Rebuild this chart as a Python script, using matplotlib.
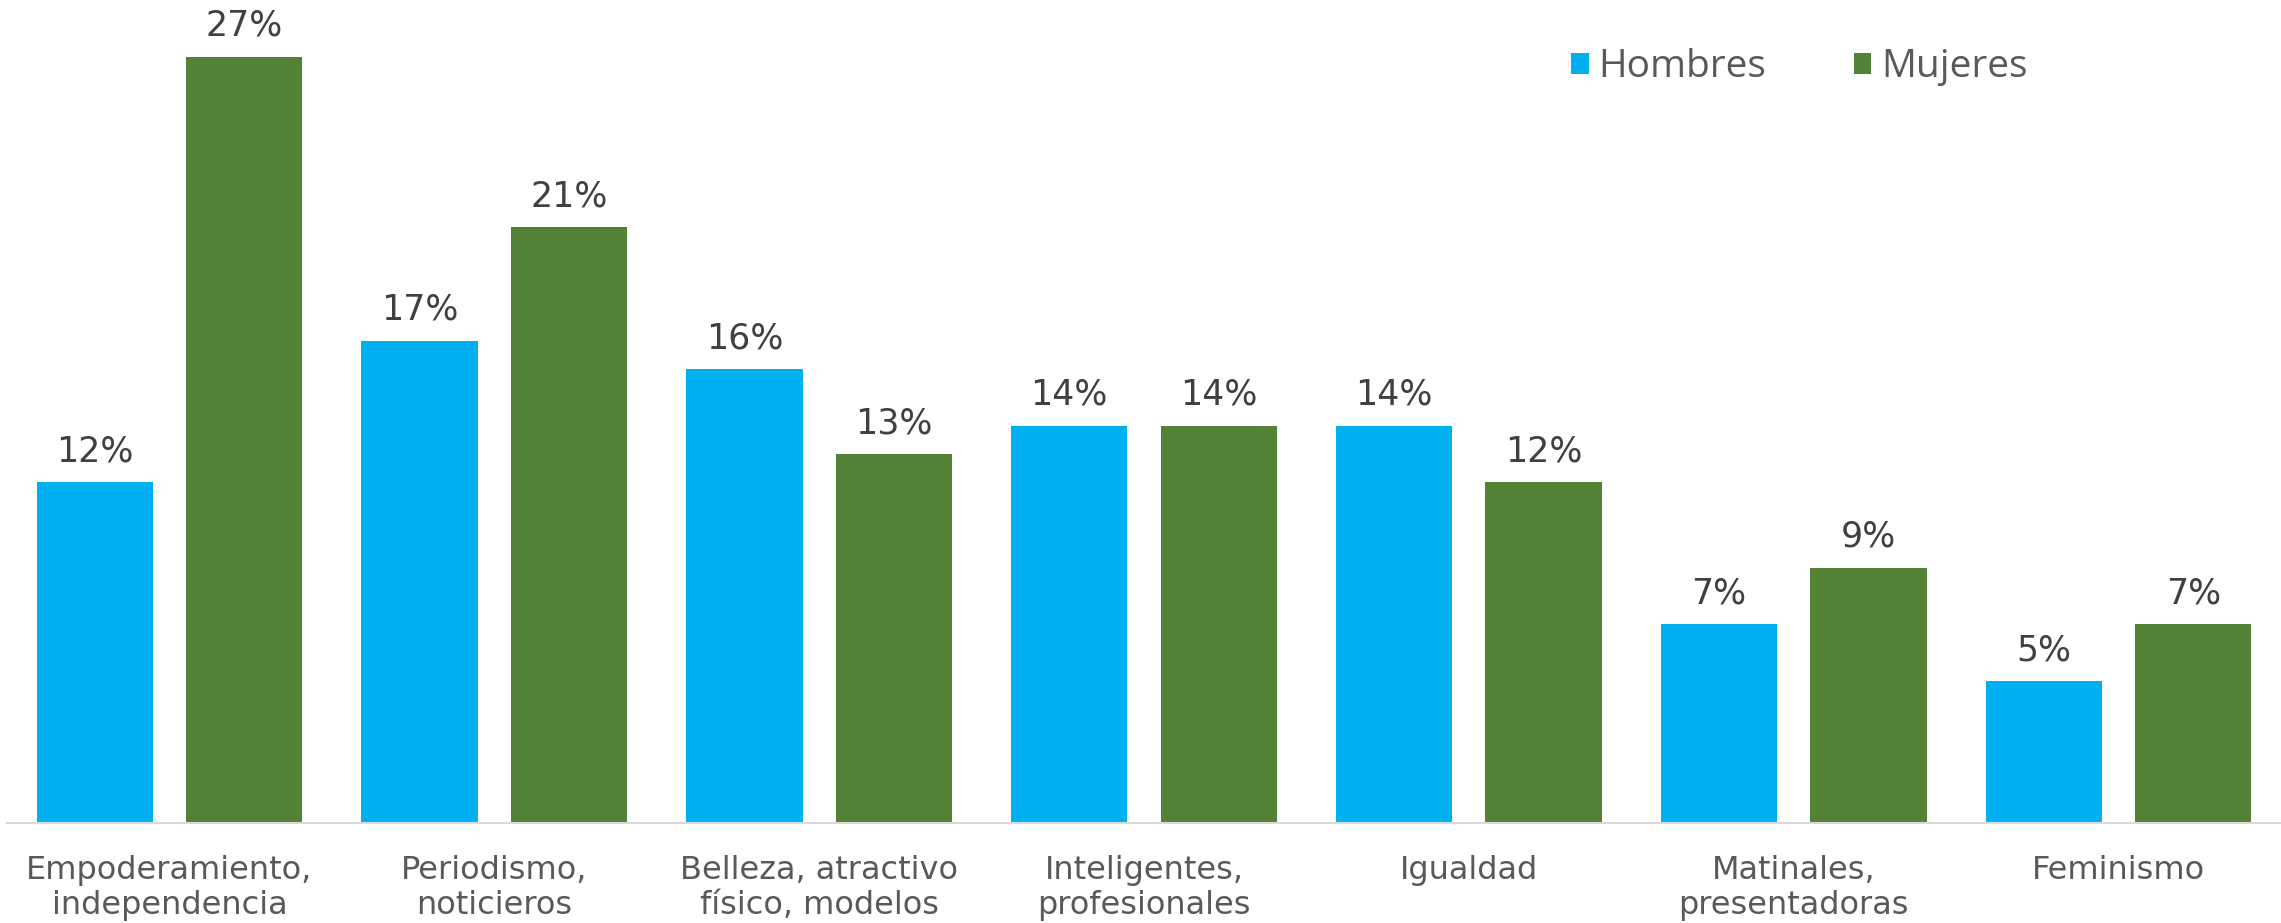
import matplotlib.pyplot as plt
import numpy as np

categorias = ["Empoderamiento,\nindependencia", "Periodismo,\nnoticieros",
              "Belleza, atractivo\nfísico, modelos", "Inteligentes,\nprofesionales",
              "Igualdad", "Matinales,\npresentadoras", "Feminismo"]
hombres = [12, 17, 16, 14, 14, 7, 5]
mujeres = [27, 21, 13, 14, 12, 9, 7]

AZUL = "#00B0F0"
VERDE = "#538135"

plt.rcParams["font.family"] = ["DejaVu Sans"]

fig = plt.figure(figsize=(22.81, 9.23), dpi=100)
ax = fig.add_axes([7 / 2281, 100 / 923, 1 - 7 / 2281, 823 / 923])

x = np.arange(len(categorias))
w = 0.358
off = 0.23
b1 = ax.bar(x - off, hombres, w, color=AZUL, label="Hombres")
b2 = ax.bar(x + off, mujeres, w, color=VERDE, label="Mujeres")

for bars, vals in ((b1, hombres), (b2, mujeres)):
    for rect, v in zip(bars, vals):
        ax.annotate(f"{v}%", (rect.get_x() + rect.get_width() / 2, rect.get_height()),
                    xytext=(0, 10), textcoords="offset points", ha="center", va="bottom",
                    fontsize=25, color="#404040")

ax.set_xlim(-0.5, 6.5)
ax.set_ylim(0, 29)
ax.set_xticks(x)
ax.set_xticklabels(categorias, fontsize=23, color="#595959", linespacing=1.15)
ax.tick_params(axis="x", length=0, pad=23)
ax.set_yticks([])
for s in ["top", "right", "left"]:
    ax.spines[s].set_visible(False)
ax.spines["bottom"].set_color("#D9D9D9")
ax.spines["bottom"].set_linewidth(1.5)

leg = ax.legend(loc="center left", bbox_to_anchor=(1534 / 2281, 1 - 67 / 823), ncol=2,
                frameon=False, handlelength=0.45, handleheight=0.45,
                handletextpad=0.25, columnspacing=2.25, labelcolor="#595959",
                prop={"family": "Open Sans", "size": 28})

fig.savefig("out.png", dpi=100)
